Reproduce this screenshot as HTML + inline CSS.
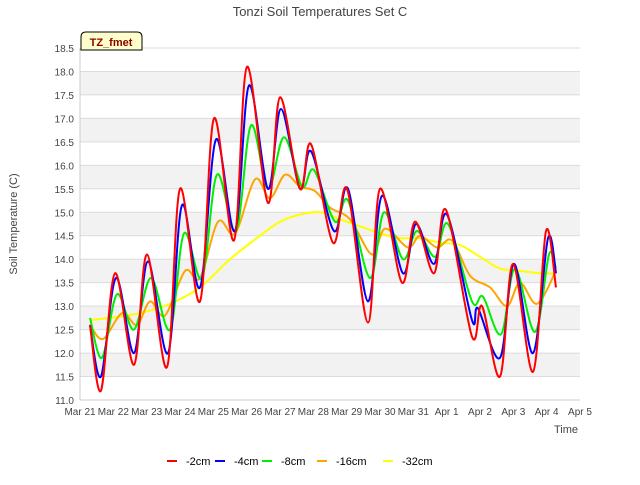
<!DOCTYPE html>
<html><head><meta charset="utf-8"><style>
body{margin:0;background:#fff;font-family:"Liberation Sans",sans-serif}
svg text{font-family:"Liberation Sans",sans-serif}
</style></head><body>
<svg id="chart" width="640" height="480">
<rect width="640" height="480" fill="#fff"/>
<text x="320" y="16" text-anchor="middle" font-size="13" fill="#444">Tonzi Soil Temperatures Set C</text>
<g id="grid"></g><g id="axes"></g><g id="series"></g>
<text x="17" y="224" transform="rotate(-90 17 224)" text-anchor="middle" font-size="11" fill="#444">Soil Temperature (C)</text>
<text x="566" y="433" text-anchor="middle" font-size="11" fill="#444">Time</text>
<g>
<path d="M81 50 L81 37 Q81 32 86 32 L137 32 Q142 32 142 37 L142 50 Z" fill="#ffffcc" stroke="#000" stroke-width="1"/>
<text x="111" y="46" text-anchor="middle" font-size="11" font-weight="bold" fill="#8b0000">TZ_fmet</text>
</g>
<g id="legend"></g>
</svg>
<script>
const yTicks=[11.0,11.5,12.0,12.5,13.0,13.5,14.0,14.5,15.0,15.5,16.0,16.5,17.0,17.5,18.0,18.5];
const xLabels=["Mar 21","Mar 22","Mar 23","Mar 24","Mar 25","Mar 26","Mar 27","Mar 28","Mar 29","Mar 30","Mar 31","Apr 1","Apr 2","Apr 3","Apr 4","Apr 5"];
const seriesNames=["-2cm","-4cm","-8cm","-16cm","-32cm"];
const seriesColors=["#ff0000","#0000ff","#00ee00","#ffa500","#ffff00"];
const d2cm=[0.30,0.63,1.05,1.62,2.01,2.61,3.0,3.6,4.02,4.62,5.01,5.64,6.0,6.6,6.93,7.59,8.01,8.64,9.0,9.66,10.05,10.62,10.98,11.76,12.06,12.6,12.99,13.59,13.98,14.28];
const v2cm=[12.6,11.2,13.7,11.75,14.1,11.7,15.5,13.1,17.0,14.4,18.1,15.2,17.45,15.5,16.45,14.35,15.5,12.65,15.5,13.5,14.8,13.7,15.05,12.35,13.0,11.5,13.9,11.6,14.6,13.4];
const d4cm=[0.30,0.63,1.08,1.62,2.04,2.64,3.06,3.6,4.08,4.65,5.07,5.64,6.03,6.6,6.93,7.62,8.04,8.64,9.06,9.69,10.08,10.62,11.01,11.76,11.94,12.6,13.02,13.59,14.04,14.28];
const v4cm=[12.6,11.5,13.6,12.0,13.95,12.0,15.15,13.4,16.55,14.6,17.7,15.5,17.2,15.5,16.3,14.6,15.5,13.1,15.35,13.7,14.75,13.9,14.95,12.7,12.95,11.9,13.9,12.0,14.45,13.7];
const d8cm=[0.30,0.66,1.11,1.62,2.13,2.7,3.12,3.66,4.11,4.68,5.13,5.64,6.12,6.66,7.02,7.65,8.04,8.7,9.12,9.69,10.11,10.65,11.04,11.76,12.09,12.63,13.05,13.65,14.07,14.28];
const v8cm=[12.75,11.9,13.25,12.5,13.6,12.5,14.55,13.6,15.8,14.6,16.85,15.5,16.6,15.55,15.9,14.8,15.25,13.6,15.0,14.0,14.6,14.05,14.75,13.1,13.2,12.4,13.8,12.45,14.1,13.8];
const d16cm=[0.3,0.69,1.26,1.71,2.1,2.55,3.15,3.6,4.14,4.65,5.25,5.7,6.15,6.6,7.05,7.5,8.1,8.76,9.15,9.84,10.2,10.71,11.16,11.7,12.3,12.81,13.2,13.71,14.28];
const v16cm=[12.6,12.3,12.85,12.6,13.1,12.8,13.75,13.6,14.8,14.55,15.7,15.3,15.8,15.55,15.45,15.1,14.85,14.1,14.65,14.25,14.5,14.25,14.4,13.65,13.4,13.0,13.5,13.05,13.75];
const d32cm=[0.3,0.9,1.8,2.7,3.6,4.5,5.4,6.0,6.6,7.2,7.8,8.4,9.0,9.6,10.2,10.8,11.4,12.0,12.6,13.2,13.8,14.28];
const v32cm=[12.7,12.75,12.85,13.05,13.4,14.0,14.5,14.8,14.95,15.0,14.85,14.7,14.55,14.45,14.45,14.35,14.3,14.05,13.8,13.75,13.7,13.7];
const days=[d2cm,d4cm,d8cm,d16cm,d32cm];
const vals=[v2cm,v4cm,v8cm,v16cm,v32cm];

const X0=80,X1=580,Y0=400,Y1=48,ymin=11,ymax=18.5,xmax=15;
const xs=d=>X0+(X1-X0)*d/xmax;
const ys=v=>Y0-(Y0-Y1)*(v-ymin)/(ymax-ymin);
const NS="http://www.w3.org/2000/svg";
function mk(tag,attrs,parent){const e=document.createElementNS(NS,tag);for(const k in attrs)e.setAttribute(k,attrs[k]);parent.appendChild(e);return e;}
const grid=document.getElementById('grid'),axes=document.getElementById('axes'),sg=document.getElementById('series'),lg=document.getElementById('legend');
for(let i=0;i<yTicks.length-1;i++){
  if(i%2===1){const r=mk('rect',{x:X0,y:ys(yTicks[i+1]),width:X1-X0,height:ys(yTicks[i])-ys(yTicks[i+1]),fill:'#f2f2f2'},grid);
  
  }
}
yTicks.forEach(t=>{
  const l=mk('line',{x1:X0,x2:X1,y1:ys(t),y2:ys(t),stroke:'#dcdcdc','stroke-width':1},grid);
  
  
  const tx=mk('text',{x:X0-6,y:ys(t)+4,'text-anchor':'end','font-size':10,fill:'#444'},axes);
  tx.textContent=t.toFixed(1);
  
  
});
mk('line',{x1:X0,x2:X0,y1:Y1,y2:Y0,stroke:'#ccc'},axes);
mk('line',{x1:X0,x2:X1,y1:Y0,y2:Y0,stroke:'#ccc'},axes);
xLabels.forEach((s,i)=>{
  const tx=mk('text',{x:xs(i),y:Y0+15,'text-anchor':'middle','font-size':10,fill:'#444'},axes);
  tx.textContent=s;
  
  
});
function smooth(pts){let d=`M${pts[0][0]},${pts[0][1]}`;
  for(let i=0;i<pts.length-1;i++){const p0=pts[Math.max(0,i-1)],p1=pts[i],p2=pts[i+1],p3=pts[Math.min(pts.length-1,i+2)];
    const c1=[p1[0]+(p2[0]-p0[0])/6,p1[1]+(p2[1]-p0[1])/6],c2=[p2[0]-(p3[0]-p1[0])/6,p2[1]-(p3[1]-p1[1])/6];
    d+=` C${c1[0].toFixed(1)},${c1[1].toFixed(1)} ${c2[0].toFixed(1)},${c2[1].toFixed(1)} ${p2[0].toFixed(1)},${p2[1].toFixed(1)}`;}
  return d;}
for(let s=4;s>=0;s--){
  const pts=days[s].map((d,i)=>[xs(d),ys(vals[s][i])]);
  const p=mk('path',{d:smooth(pts),fill:'none',stroke:seriesColors[s],'stroke-width':2},sg);
  
  
}
const lx=[167,215,262,317,383];
seriesNames.forEach((n,i)=>{
  const g=mk('g',{},lg);
  
  
  mk('line',{x1:lx[i],x2:lx[i]+10,y1:461,y2:461,stroke:seriesColors[i],'stroke-width':2},g);
  const t=mk('text',{x:lx[i]+19,y:465,'font-size':11,fill:'#000'},g);t.textContent=n;
});
</script>
</body></html>
